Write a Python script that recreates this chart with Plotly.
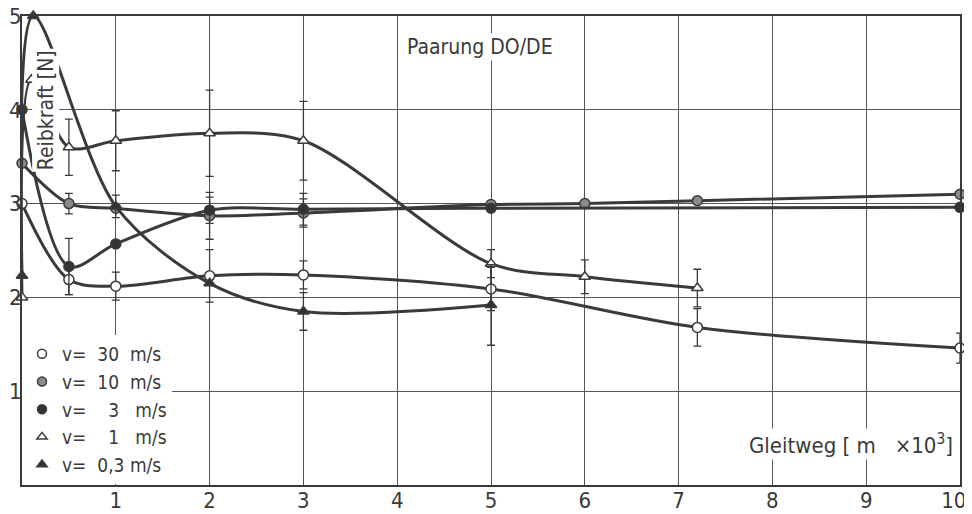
import plotly.graph_objects as go

# ---- data (Gleitweg in 10^3 m, Reibkraft in N) ----
x_v30 = [0, 0.5, 1, 2, 3, 5, 7.2, 10]
y_v30 = [3.0, 2.19, 2.12, 2.23, 2.24, 2.09, 1.68, 1.46]
e_v30 = [0, 0.16, 0.15, 0.28, 0.15, 0.23, 0.2, 0.16]

x_v10 = [0, 0.5, 1, 2, 3, 5, 6, 7.2, 10]
y_v10 = [3.43, 3.0, 2.95, 2.87, 2.9, 2.99, 3.0, 3.03, 3.1]
e_v10 = [0, 0.11, 0, 0.25, 0.15, 0, 0, 0, 0]

x_v3 = [0, 0.5, 1, 2, 3, 5, 10]
y_v3 = [4.0, 2.33, 2.57, 2.93, 2.94, 2.95, 2.96]
e_v3 = [0, 0.3, 0, 0.14, 0.17, 0, 0]

x_v1 = [0, 0.1, 0.5, 1, 2, 3, 5, 6, 7.2]
y_v1 = [2.0, 4.32, 3.6, 3.67, 3.75, 3.67, 2.36, 2.22, 2.1]
e_v1 = [0, 0, 0.3, 0.32, 0.46, 0.42, 0.15, 0.18, 0.2]

x_v03 = [0, 0.12, 1, 2, 3, 5]
y_v03 = [2.23, 5.0, 2.97, 2.15, 1.85, 1.92]
e_v03 = [0, 0, 0.12, 0, 0.2, 0.43]

x_ticks = [1, 2, 3, 4, 5, 6, 7, 8, 9, 10]
x_labels = ["1", "2", "3", "4", "5", "6", "7", "8", "9", "10\u00a0\u00a0"]
y_ticks = [1, 2, 3, 4, 5]
y_labels = ["1", "2", "3", "4", "5"]

NB = "\u00a0"
series = [
    ("v=" + NB * 2 + "30" + NB * 2 + "m/s", x_v30, y_v30, e_v30, "circle", "white"),
    ("v=" + NB * 2 + "10" + NB * 2 + "m/s", x_v10, y_v10, e_v10, "circle", "#8a8a8a"),
    ("v=" + NB * 4 + "3" + NB * 3 + "m/s", x_v3, y_v3, e_v3, "circle", "#333333"),
    ("v=" + NB * 4 + "1" + NB * 3 + "m/s", x_v1, y_v1, e_v1, "triangle-up", "white"),
    ("v=" + NB * 2 + "0,3" + NB + "m/s", x_v03, y_v03, e_v03, "triangle-up", "#333333"),
]

INK = "#3a3a3a"
FONT = "DejaVu Sans Condensed, Liberation Sans Narrow, Roboto Condensed, DejaVu Sans, sans-serif"

fig = go.Figure()
for name, xs, ys, es, sym, fill in series:
    fig.add_trace(go.Scatter(
        x=xs, y=ys, mode="lines+markers", showlegend=False,
        line=dict(color=INK, width=3, shape="spline", smoothing=0.9),
        marker=dict(symbol=sym, size=10, color=fill, line=dict(color=INK, width=1.5)),
        error_y=dict(type="data", array=es, symmetric=True, color=INK,
                     thickness=1.3, width=4),
        cliponaxis=False,
    ))

for name, xs, ys, es, sym, fill in series:
    fig.add_trace(go.Scatter(
        x=[None], y=[None], mode="markers", name=name,
        marker=dict(symbol=sym, size=9, color=fill, line=dict(color=INK, width=1.5)),
    ))

fig.add_annotation(x=0.25, y=4.0, text="Reibkraft [N]", textangle=-90, showarrow=False,
                   font=dict(size=21, color=INK, family=FONT), bgcolor="white")
fig.add_annotation(x=4.88, y=4.67, text="Paarung DO/DE", showarrow=False,
                   font=dict(size=21, color=INK, family=FONT), bgcolor="white")
fig.add_annotation(x=9.95, y=0.44, xanchor="right",
                   text="Gleitweg" + NB + "[" + NB + "m" + NB * 3 + "×10<sup>3</sup>]",
                   showarrow=False, font=dict(size=22, color=INK, family=FONT), bgcolor="white")

fig.update_layout(
    template="none",
    width=964, height=506,
    margin=dict(l=14, r=12, t=8, b=29),
    paper_bgcolor="white", plot_bgcolor="white",
    font=dict(family=FONT, color=INK, size=20),
    legend=dict(x=0.0, y=0.32, xanchor="left", yanchor="top", bgcolor="white",
                font=dict(size=19, family=FONT, color=INK), itemwidth=30,
                tracegroupgap=0),
)
fig.update_xaxes(range=[0, 10], tickvals=x_ticks, ticktext=x_labels,
                 showgrid=True, gridcolor="#555555", gridwidth=1,
                 showline=True, linecolor=INK, linewidth=2, mirror=True,
                 ticks="", zeroline=False, ticklabeloverflow="allow",
                 ticklabelstandoff=-5,
                 tickfont=dict(size=22, family=FONT, color=INK), automargin=False)
fig.update_yaxes(range=[0, 5], tickvals=y_ticks, ticktext=y_labels,
                 showgrid=True, gridcolor="#555555", gridwidth=1,
                 showline=True, linecolor=INK, linewidth=2, mirror=True,
                 ticks="", zeroline=False, ticklabeloverflow="allow",
                 ticklabelstandoff=-6,
                 tickfont=dict(size=22, family=FONT, color=INK), automargin=False)

fig.write_html("out.html")
